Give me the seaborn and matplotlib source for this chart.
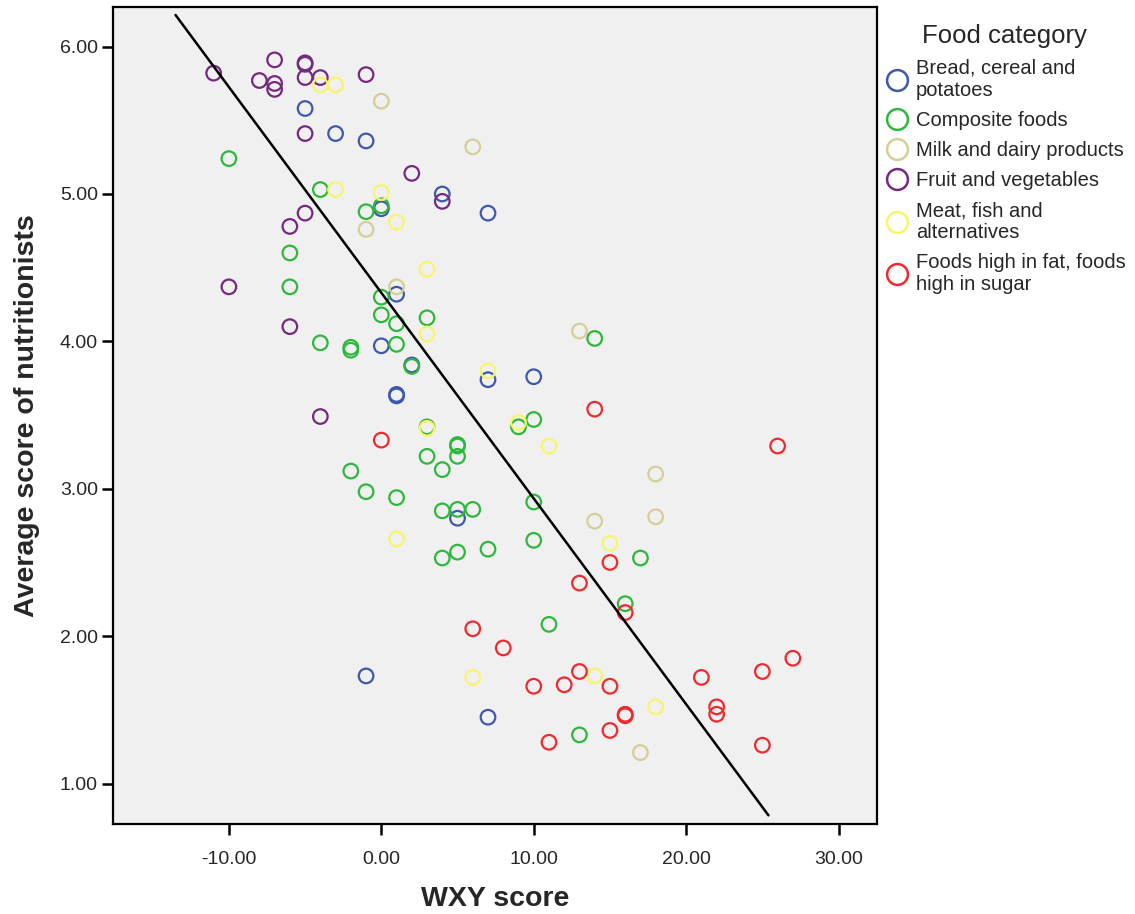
import numpy as np
import pandas as pd
import seaborn as sns
import matplotlib.pyplot as plt
from matplotlib.lines import Line2D
from matplotlib.ticker import FormatStrFormatter

# Food categories in legend order, with SPSS-like colours
categories = [
    "Bread, cereal and\npotatoes",
    "Composite foods",
    "Milk and dairy products",
    "Fruit and vegetables",
    "Meat, fish and\nalternatives",
    "Foods high in fat, foods\nhigh in sugar",
]
colors = ["#3e58ac", "#2db83d", "#d4ce97", "#762a7f", "#f8f56b", "#ee2a2e"]

# WXY score / average score of nutritionists, per category
bread_x = [-5, -3, -1, 4, 7, 0, 1, 0, 2, 7, 1, 1, 5, 10, -1, 7]
bread_y = [5.58, 5.41, 5.36, 5.00, 4.87, 4.90, 4.32, 3.97, 3.84, 3.74, 3.64, 3.63, 2.80, 3.76, 1.73, 1.45]

composite_x = [-10, -4, -1, 0, -6, -6, 0, 0, 1, 3, -4, -2, -2, 1, 2, 3, 5, 5, 5, 3, 4, -2, -1, 1,
               4, 5, 6, 4, 5, 7, 14, 9, 10, 10, 10, 17, 16, 11, 13]
composite_y = [5.24, 5.03, 4.88, 4.92, 4.60, 4.37, 4.30, 4.18, 4.12, 4.16, 3.99, 3.96, 3.94, 3.98,
               3.83, 3.42, 3.30, 3.29, 3.22, 3.22, 3.13, 3.12, 2.98, 2.94, 2.85, 2.86, 2.86, 2.53,
               2.57, 2.59, 4.02, 3.42, 3.47, 2.91, 2.65, 2.53, 2.22, 2.08, 1.33]

milk_x = [0, 6, -1, 1, 13, 18, 18, 14, 17]
milk_y = [5.63, 5.32, 4.76, 4.37, 4.07, 3.10, 2.81, 2.78, 1.21]

fruit_x = [-11, -7, -8, -7, -7, -5, -5, -5, -4, -1, -5, 2, 4, -5, -6, -10, -6, -4]
fruit_y = [5.82, 5.91, 5.77, 5.75, 5.71, 5.89, 5.88, 5.79, 5.79, 5.81, 5.41, 5.14, 4.95, 4.87,
           4.78, 4.37, 4.10, 3.49]

meat_x = [-4, -3, -3, 0, 1, 3, 3, 7, 3, 9, 11, 1, 15, 6, 14, 18]
meat_y = [5.74, 5.74, 5.03, 5.01, 4.81, 4.49, 4.05, 3.80, 3.41, 3.45, 3.29, 2.66, 2.63, 1.72,
          1.73, 1.52]

fat_sugar_x = [0, 14, 26, 15, 13, 16, 6, 8, 13, 10, 12, 15, 21, 25, 27, 22, 22, 16, 16, 15, 11, 25]
fat_sugar_y = [3.33, 3.54, 3.29, 2.50, 2.36, 2.16, 2.05, 1.92, 1.76, 1.66, 1.67, 1.66, 1.72, 1.76,
               1.85, 1.52, 1.47, 1.47, 1.46, 1.36, 1.28, 1.26]

# fit line as drawn in the original
fit_intercept = 4.33
fit_slope = -0.1396
fit_x_range = [-13.5, 25.4]

groups = [(bread_x, bread_y), (composite_x, composite_y), (milk_x, milk_y),
          (fruit_x, fruit_y), (meat_x, meat_y), (fat_sugar_x, fat_sugar_y)]
frames = []
for cat, (gx, gy) in zip(categories, groups):
    frames.append(pd.DataFrame({"WXY": gx, "Nutritionists": gy, "Category": cat}))
df = pd.concat(frames, ignore_index=True)

sns.set_style("white")
plt.rcParams["font.family"] = ["Liberation Sans", "DejaVu Sans"]

fig = plt.figure(figsize=(11.35, 9.14), dpi=100)
ax = fig.add_axes([0.0996, 0.0981, 0.6728, 0.8946])
ax.set_facecolor("#f0f0f0")

sns.scatterplot(data=df, x="WXY", y="Nutritionists", hue="Category",
                hue_order=categories, palette=colors, s=110, linewidth=1.6,
                legend=False, ax=ax)
# hollow circles: move the colour to the edge
coll = ax.collections[0]
coll.set_edgecolors(coll.get_facecolors())
coll.set_facecolors("none")

fx = np.array(fit_x_range)
ax.plot(fx, fit_intercept + fit_slope * fx, color="black", linewidth=1.8)

ax.set_xlim(-17.6, 32.5)
ax.set_ylim(0.723, 6.271)
ax.set_xticks([-10, 0, 10, 20, 30])
ax.set_yticks([1, 2, 3, 4, 5, 6])
ax.xaxis.set_major_formatter(FormatStrFormatter("%.2f"))
ax.yaxis.set_major_formatter(FormatStrFormatter("%.2f"))
ax.tick_params(axis="both", direction="out", length=8, width=1.8, color="black",
               labelsize=14, pad=3, bottom=True, left=True)
ax.tick_params(axis="x", pad=11)
for sp in ax.spines.values():
    sp.set_visible(True)
    sp.set_color("black")
    sp.set_linewidth(1.6)

ax.set_xlabel("WXY score", fontsize=20.5, fontweight="bold", labelpad=13)
ax.set_ylabel("Average score of nutritionists", fontsize=20.5, fontweight="bold",
              labelpad=14)

handles = [Line2D([0], [0], marker="o", linestyle="none", markersize=15,
                  markerfacecolor="none", markeredgecolor=c, markeredgewidth=1.8)
           for c in colors]
leg = fig.legend(handles, categories, title="Food category", loc="upper left",
                 bbox_to_anchor=(0.7785, 0.974), frameon=False, fontsize=14.5,
                 title_fontsize=18.5, handletextpad=0.3, labelspacing=0.55,
                 handlelength=1.3, borderaxespad=0, borderpad=0)

fig.savefig("out.png", dpi=100)
